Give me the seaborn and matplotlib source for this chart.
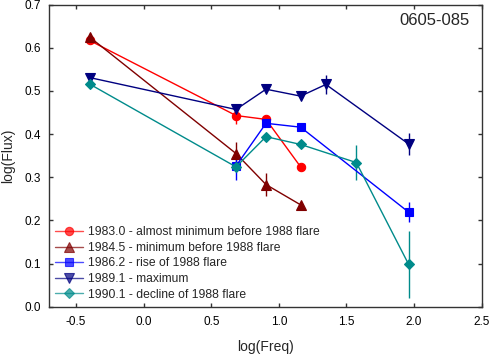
import matplotlib
matplotlib.use("Agg")
import matplotlib.pyplot as plt
import seaborn as sns
import pandas as pd

labels = ["1983.0 - almost minimum before 1988 flare",
          "1984.5 - minimum before 1988 flare",
          "1986.2 - rise of 1988 flare",
          "1989.1 - maximum",
          "1990.1 - decline of 1988 flare"]

x_1983 = [-0.40, 0.683, 0.905, 1.161]
y_1983 = [0.617, 0.443, 0.434, 0.324]
e_1983 = [0.006, 0.020, 0.006, 0.006]

x_1984 = [-0.40, 0.683, 0.905, 1.161]
y_1984 = [0.625, 0.355, 0.283, 0.236]
e_1984 = [0.006, 0.027, 0.026, 0.006]

x_1986 = [0.683, 0.905, 1.161, 1.960]
y_1986 = [0.326, 0.425, 0.416, 0.219]
e_1986 = [0.032, 0.006, 0.006, 0.023]

x_1989 = [-0.40, 0.683, 0.905, 1.161, 1.348, 1.960]
y_1989 = [0.531, 0.457, 0.504, 0.488, 0.515, 0.377]
e_1989 = [0.008, 0.006, 0.006, 0.006, 0.022, 0.025]

x_1990 = [-0.40, 0.683, 0.905, 1.161, 1.573, 1.960]
y_1990 = [0.516, 0.324, 0.394, 0.376, 0.334, 0.098]
e_1990 = [0.008, 0.006, 0.006, 0.006, 0.041, 0.077]

xticks = [-0.5, 0.0, 0.5, 1.0, 1.5, 2.0, 2.5]
yticks = [0.0, 0.1, 0.2, 0.3, 0.4, 0.5, 0.6, 0.7]

colors = ["#ff0000", "#800000", "#0000ff", "#000080", "#008b8b"]
markers = ["o", "^", "s", "v", "D"]
msizes = [6, 6.5, 5.5, 6.5, 5]

series = [(x_1983, y_1983, e_1983), (x_1984, y_1984, e_1984),
          (x_1986, y_1986, e_1986), (x_1989, y_1989, e_1989),
          (x_1990, y_1990, e_1990)]

sns.set_style("ticks")
plt.rcParams['font.family'] = ['Liberation Sans', 'DejaVu Sans']

fig = plt.figure(figsize=(4.91, 3.56), dpi=100)
ax = fig.add_axes([0.0998, 0.1385, 0.8812, 0.8485])

for (xs, ys, es), lab, c, m, ms in zip(series, labels, colors, markers, msizes):
    df = pd.DataFrame({"x": xs, "y": ys})
    ax.errorbar(xs, ys, yerr=es, fmt="none", ecolor=c, elinewidth=1.0, capsize=0, zorder=2)
    sns.lineplot(data=df, x="x", y="y", ax=ax, color=c, marker=m, markersize=ms,
                 markeredgecolor=c, markeredgewidth=0.8, linewidth=1.0, label=lab,
                 sort=False, zorder=3)

ax.set_xlim(-0.7, 2.5)
ax.set_ylim(0.0, 0.7)
ax.set_xticks(xticks)
ax.set_yticks(yticks)
ax.xaxis.set_major_formatter(matplotlib.ticker.FormatStrFormatter('%.1f'))
ax.yaxis.set_major_formatter(matplotlib.ticker.FormatStrFormatter('%.1f'))
ax.tick_params(axis='both', which='major', labelsize=8.5, length=3, width=1,
               direction='in', colors='#333333', labelcolor='black',
               top=True, right=True)
ax.tick_params(axis='x', pad=7)
ax.tick_params(axis='y', pad=6)

for s in ax.spines.values():
    s.set_linewidth(1.0)
    s.set_color('#333333')

ax.set_xlabel("log(Freq)", fontsize=10)
ax.set_ylabel("log(Flux)", fontsize=10)
ax.xaxis.set_label_coords(0.5, -0.11)
ax.yaxis.set_label_coords(-0.078, 0.5)

ax.text(0.973, 0.949, "0605-085", transform=ax.transAxes, ha='right', va='center', fontsize=12)

leg = ax.legend(loc='lower left', bbox_to_anchor=(0.0, 0.0), frameon=False, fontsize=8.7,
                handlelength=2.3, labelspacing=0.3, borderaxespad=0.2, borderpad=0.3,
                handletextpad=0.45)
for h in leg.get_lines():
    h.set_alpha(0.7)

fig.savefig("out.png", dpi=100)
